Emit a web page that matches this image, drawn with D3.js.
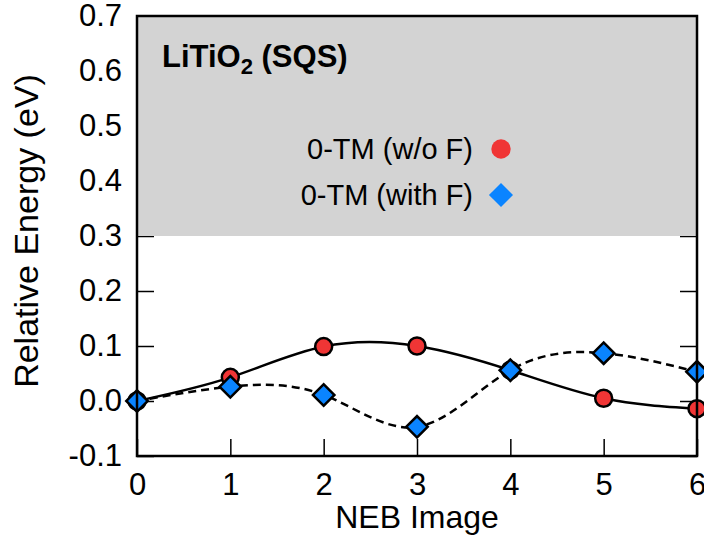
<!DOCTYPE html>
<html>
<head>
<meta charset="utf-8">
<script src="https://cdn.jsdelivr.net/npm/d3@7"></script>
<style>
  body { margin: 0; background: #fff; }
  svg { display: block; font-family: "Liberation Sans", Arial, sans-serif; }
</style>
</head>
<body>
<svg id="chart" width="704" height="540"></svg>
<script>
// data
const images = [0, 1, 2, 3, 4, 5, 6];
const noF = [0.0, 0.043, 0.099, 0.100, 0.056, 0.005, -0.014];
const withF = [0.0, 0.026, 0.011, -0.047, 0.056, 0.087, 0.053];
const xTicks = [0, 1, 2, 3, 4, 5, 6];
const yTicks = [-0.1, 0.0, 0.1, 0.2, 0.3, 0.4, 0.5, 0.6, 0.7];
const shadeRange = [0.3, 0.7];
const seriesNames = ['0-TM (w/o F)', '0-TM (with F)'];

const red = '#f03535';
const blue = '#0a84ff';

const svg = d3.select('#chart');
const margin = { left: 137, right: 7, top: 16, bottom: 84 };
const width = 704 - margin.left - margin.right;
const height = 540 - margin.top - margin.bottom;

const x = d3.scaleLinear().domain([0, 6]).range([0, width]);
const y = d3.scaleLinear().domain([-0.1, 0.7]).range([height, 0]);

const g = svg.append('g').attr('transform', `translate(${margin.left},${margin.top})`);

// inward ticks
const tickLen = 17;
g.append('g').attr('transform', `translate(0,${height})`)
  .call(d3.axisBottom(x).tickValues(xTicks).tickSizeInner(-tickLen).tickSizeOuter(0).tickFormat(''))
  .call(s => s.select('.domain').remove());
g.append('g')
  .call(d3.axisLeft(y).tickValues(yTicks).tickSizeInner(-tickLen).tickSizeOuter(0).tickFormat(''))
  .call(s => s.select('.domain').remove());
g.append('g').attr('transform', `translate(${width},0)`)
  .call(d3.axisRight(y).tickValues(yTicks).tickSizeInner(-tickLen).tickSizeOuter(0).tickFormat(''))
  .call(s => s.select('.domain').remove());
g.selectAll('.tick line').attr('stroke', '#000').attr('stroke-width', 1.5);

// shaded region
g.append('rect')
  .attr('x', 0).attr('width', width)
  .attr('y', y(shadeRange[1])).attr('height', y(shadeRange[0]) - y(shadeRange[1]))
  .attr('fill', '#d3d3d3');

// tick labels
g.append('g').attr('transform', `translate(0,${height})`)
  .call(d3.axisBottom(x).tickValues(xTicks).tickSize(0).tickPadding(17).tickFormat(d3.format('d')))
  .call(s => s.select('.domain').remove())
  .selectAll('text').attr('font-size', 31).attr('font-family', 'Liberation Sans, Arial').attr('fill', '#000');
g.append('g')
  .call(d3.axisLeft(y).tickValues(yTicks).tickSize(0).tickPadding(15).tickFormat(d => d.toFixed(1)))
  .call(s => s.select('.domain').remove())
  .selectAll('text').attr('font-size', 31).attr('font-family', 'Liberation Sans, Arial').attr('fill', '#000');

// curves
const line = d3.line().x((d, i) => x(images[i])).y(d => y(d)).curve(d3.curveNatural);
g.append('path').datum(noF).attr('d', line)
  .attr('fill', 'none').attr('stroke', '#000').attr('stroke-width', 2.5);
g.append('path').datum(withF).attr('d', line)
  .attr('fill', 'none').attr('stroke', '#000').attr('stroke-width', 2.5)
  .attr('stroke-dasharray', '8,5');

// markers
g.selectAll('.pt-red').data(noF).enter().append('circle')
  .attr('cx', (d, i) => x(images[i])).attr('cy', d => y(d)).attr('r', 8.5)
  .attr('fill', red).attr('stroke', '#000').attr('stroke-width', 2.5);
const diamond = d3.symbol(d3.symbolSquare, 230);
g.selectAll('.pt-blue').data(withF).enter().append('path')
  .attr('d', diamond)
  .attr('transform', (d, i) => `translate(${x(images[i])},${y(d)}) rotate(45)`)
  .attr('fill', blue).attr('stroke', '#000').attr('stroke-width', 2.5);

// frame
g.append('rect').attr('width', width).attr('height', height)
  .attr('fill', 'none').attr('stroke', '#000').attr('stroke-width', 2.5);

// title
const title = g.append('text').attr('x', 25).attr('y', 51)
  .attr('font-size', 31).attr('font-weight', 'bold').attr('fill', '#000');
title.append('tspan').text('LiTiO');
title.append('tspan').attr('font-size', 22).attr('dy', 7).text('2');
title.append('tspan').attr('dy', -7).text(' (SQS)');

// legend
const legend = g.append('g').attr('transform', 'translate(336,133)');
seriesNames.forEach((name, i) => {
  const row = legend.append('g').attr('transform', `translate(0,${i * 46})`);
  row.append('text').attr('x', 0).attr('y', 0).attr('dy', '0.35em')
    .attr('text-anchor', 'end').attr('font-size', 29).attr('fill', '#000').text(name);
  if (i === 0) {
    row.append('circle').attr('cx', 28).attr('cy', 0).attr('r', 9.7).attr('fill', red);
  } else {
    row.append('path').attr('d', d3.symbol(d3.symbolSquare, 290))
      .attr('transform', 'translate(28,0) rotate(45)').attr('fill', blue);
  }
});

// axis titles
svg.append('text')
  .attr('x', margin.left + width / 2).attr('y', 528)
  .attr('text-anchor', 'middle').attr('font-size', 32).attr('fill', '#000')
  .text('NEB Image');
svg.append('text')
  .attr('transform', 'translate(38,231) rotate(-90)')
  .attr('text-anchor', 'middle').attr('font-size', 34).attr('fill', '#000')
  .text('Relative Energy (eV)');
</script>
</body>
</html>
